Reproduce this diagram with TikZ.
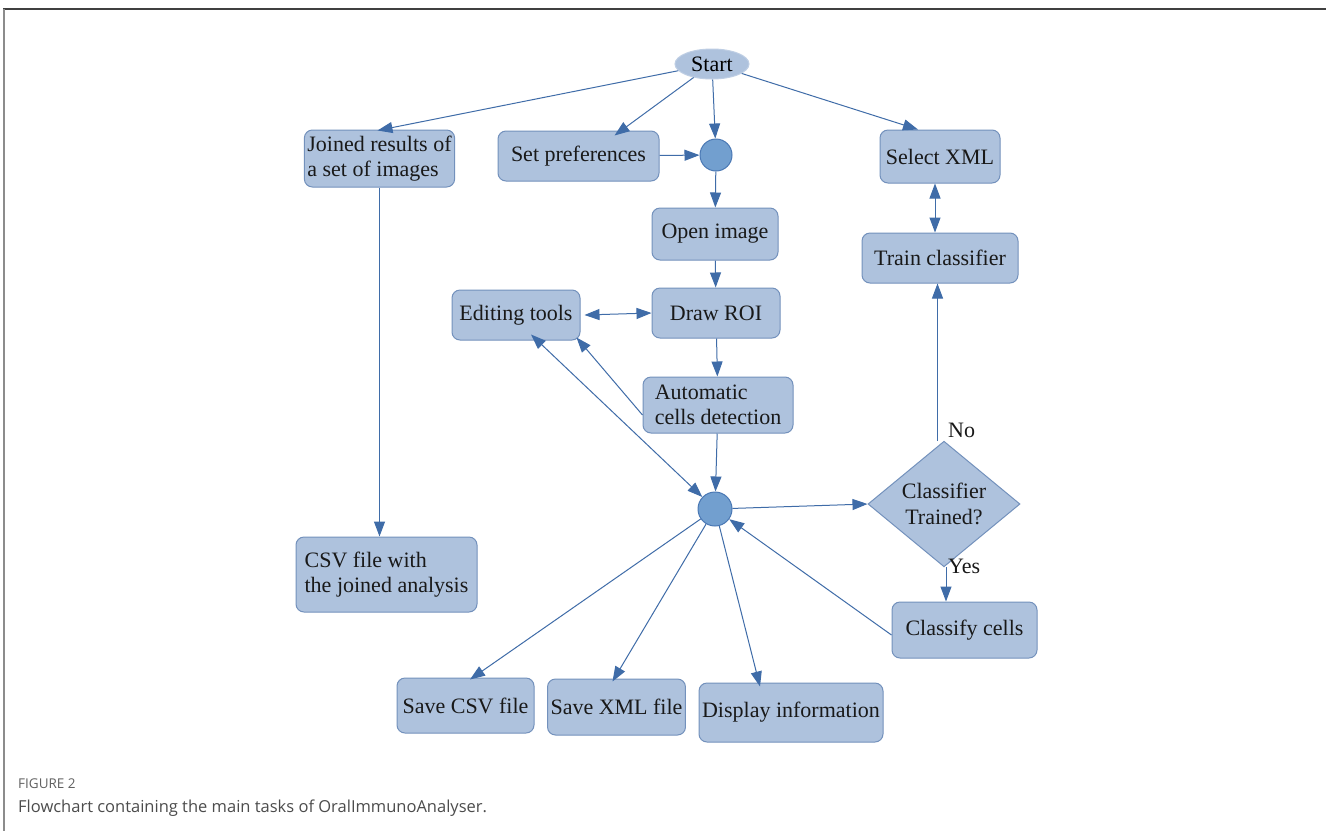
\documentclass[tikz,border=0pt]{standalone}
\usepackage{fontspec}
\setmainfont{Liberation Serif}
\newfontfamily\capfont{Open Sans}
\usetikzlibrary{shapes.geometric,arrows.meta}
\definecolor{boxfill}{HTML}{AEC2DD}
\definecolor{boxdraw}{HTML}{7391BC}
\definecolor{linecol}{HTML}{3F6CA8}
\definecolor{dotfill}{HTML}{729FCF}
\definecolor{dotdraw}{HTML}{4A78B4}
\tikzset{
  box/.style={draw=boxdraw, fill=boxfill, rounded corners=8pt, line width=1pt, inner sep=3pt,
    font=\fontsize{22}{25.5}\selectfont, text=black!90},
  dot/.style={circle, draw=dotdraw, fill=dotfill, line width=1pt, inner sep=0pt},
  conn/.style={draw=linecol, line width=1pt, -{Triangle[length=15pt,width=11pt]}},
  biconn/.style={draw=linecol, line width=1pt, {Triangle[length=15pt,width=11pt]}-{Triangle[length=15pt,width=11pt]}},
  lbl/.style={font=\fontsize{22}{25.5}\selectfont, text=black!90, inner sep=0pt}
}
\begin{document}
\begin{tikzpicture}[x=1pt,y=-1pt]
\useasboundingbox (0,0) rectangle (1326,831);
\fill[white] (0,0) rectangle (1326,831);
% frame
\draw[line width=2pt, draw=black!75] (3,9) -- (1326,9);
\draw[line width=2pt, draw=black!45] (4,9) -- (4,831);

% nodes
\node[ellipse, draw=boxfill!80!white, fill=boxfill, line width=1pt, minimum width=74pt, minimum height=30pt, inner sep=0pt, font=\fontsize{22}{25.5}\selectfont] (start) at (712,64) {Start};
\node[box, minimum width=135pt, minimum height=57pt, align=left] (joined) at (379.5,158.5) {Joined results of\\a set of images};
\node[box, minimum width=161pt, minimum height=50pt] (setpref) at (578.5,156) {Set preferences};
\node[dot, minimum size=32pt] (c1) at (716,155) {};
\node[box, minimum width=120pt, minimum height=53pt] (selxml) at (940,156.5) {Select XML};
\node[box, minimum width=126pt, minimum height=52pt] (openimg) at (715,234) {Open image};
\node[box, minimum width=156pt, minimum height=50pt] (train) at (940,258) {Train classifier};
\node[box, minimum width=128pt, minimum height=50pt] (edit) at (516,315) {Editing tools};
\node[box, minimum width=128pt, minimum height=50pt] (roi) at (716,313) {Draw ROI};
\node[box, minimum width=150pt, minimum height=56pt, align=left] (auto) at (718,405) {Automatic\\cells detection};
\node[dot, minimum size=34pt] (c2) at (715,509) {};
\node[diamond, draw=boxdraw, fill=boxfill, line width=1pt, minimum width=152pt, minimum height=108pt, inner sep=0pt, align=center, font=\fontsize{22}{25.5}\selectfont, text=black!90] (dia) at (944,504) {Classifier\\Trained?};
\node[box, minimum width=145pt, minimum height=56pt] (classify) at (964.5,630) {Classify cells};
\node[box, minimum width=181pt, minimum height=75pt, align=left] (csvj) at (386.5,574.5) {CSV file with\\the joined analysis};
\node[box, minimum width=137pt, minimum height=55pt] (savecsv) at (465.5,705.5) {Save CSV file};
\node[box, minimum width=135pt, minimum height=56pt] (savexml) at (616.5,707) {Save XML file};
\node[box, minimum width=184pt, minimum height=59pt] (display) at (791,712.5) {Display information};

% connectors
\draw[conn] (start) -- ([xshift=-2pt,yshift=-1pt]joined.north);
\draw[conn] (start) -- ([xshift=36pt,yshift=-5pt]setpref.north);
\draw[conn] (start) -- (c1);
\draw[conn] (start) -- ([xshift=-22pt]selxml.north);
\draw[conn] (setpref) -- (c1);
\draw[conn] (c1) -- (openimg);
\draw[biconn] ([xshift=-5pt]selxml.south) -- ([xshift=-5pt]train.north);
\draw[conn] (openimg) -- (roi);
\draw[biconn] ([xshift=4pt]edit.east) -- (roi.west);
\draw[conn] (roi) -- (auto);
\draw[conn] ([yshift=-10pt]auto.west) -- ([xshift=-4pt,yshift=3pt]edit.south east);
\draw[biconn] (c2) -- ([xshift=15pt,yshift=6pt]edit.south);
\draw[conn] (auto) -- (c2);
\draw[conn] (c2) -- (dia.west);
\coordinate (ntop) at ([xshift=-6.5pt]dia.north);
\draw[conn] (ntop) -- (ntop |- train.south);
\node[lbl, anchor=west] (nolbl) at (948,430) {No};
\draw[conn] ([xshift=2pt]dia.south) -- ([xshift=2pt]dia.south |- classify.north);
\node[lbl, anchor=west] (yeslbl) at (948,566) {Yes};
\draw[conn] ([yshift=-5pt]classify.west) -- (c2);
\draw[conn] (c2) -- ([xshift=4.5pt,yshift=-2pt]savecsv.north);
\draw[conn] (c2) -- ([xshift=-4pt,yshift=-3pt]savexml.north);
\draw[conn] (c2) -- ([xshift=-31pt,yshift=-4pt]display.north);
\draw[conn] (joined) -- (joined.south |- csvj.north);

% caption
\node[anchor=base west, inner sep=0pt, text=black!62, font=\capfont\fontsize{13.5}{15}\selectfont] (figlbl) at (18,788) {FIGURE 2};
\node[anchor=base west, inner sep=0pt, text=black!70, font=\capfont\fontsize{16.5}{19}\selectfont] (caption) at (18,812) {Flowchart containing the main tasks of OralImmunoAnalyser.};
\end{tikzpicture}
\end{document}
